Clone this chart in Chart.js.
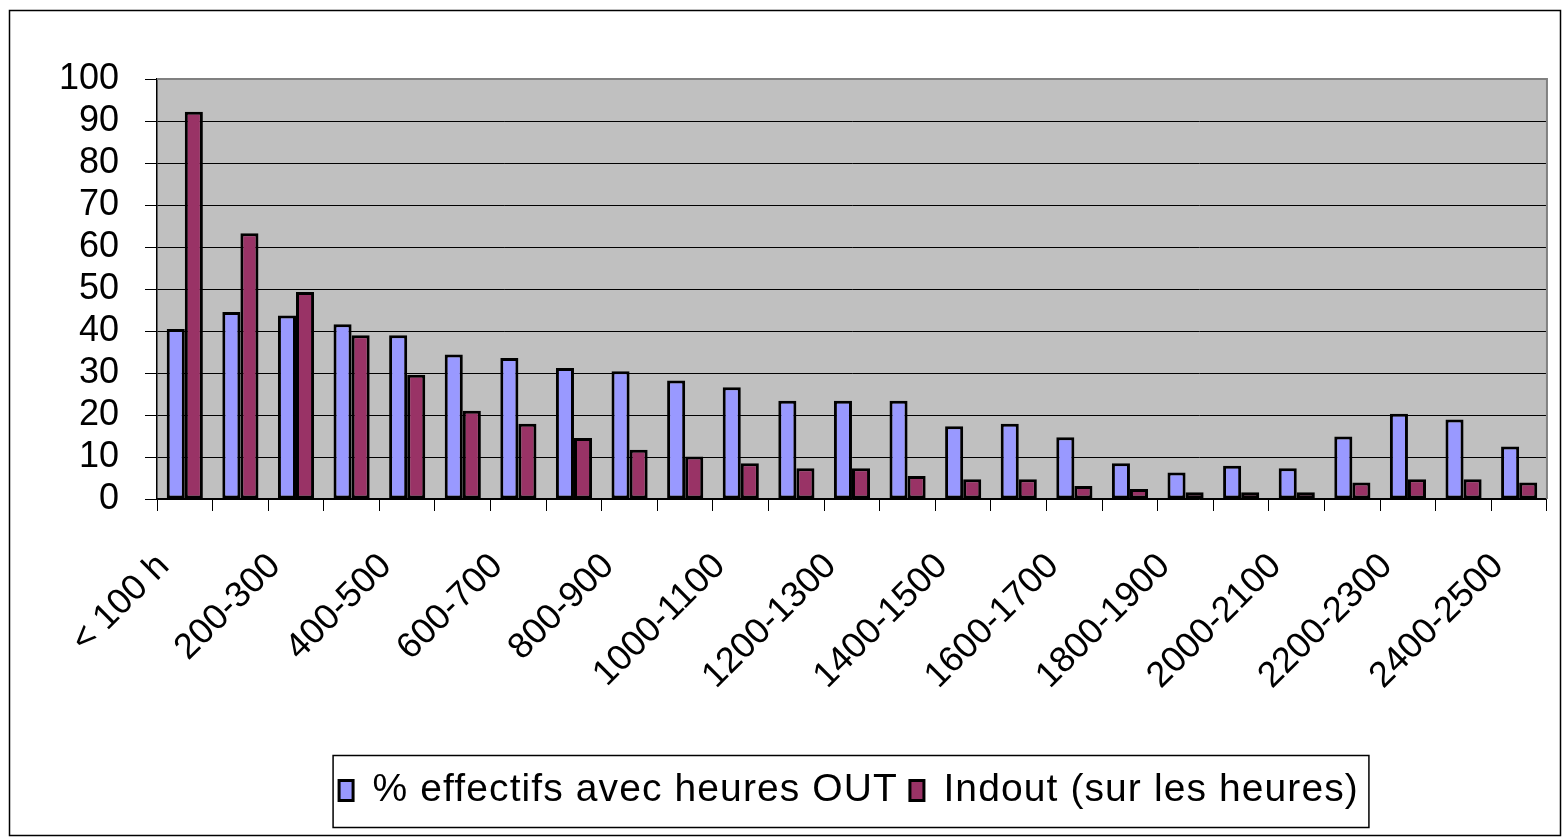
<!DOCTYPE html>
<html>
<head>
<meta charset="utf-8">
<script src="https://cdn.jsdelivr.net/npm/chart.js@4"></script>
<style>
html,body{margin:0;padding:0;background:#fff;}
#wrap{width:1563px;height:838px;position:relative;}
</style>
</head>
<body>
<div id="wrap"><canvas id="c" width="1563" height="838"></canvas></div>
<script>
const categories = ['< 100 h','100-200','200-300','300-400','400-500','500-600','600-700','700-800','800-900','900-1000','1000-1100','1100-1200','1200-1300','1300-1400','1400-1500','1500-1600','1600-1700','1700-1800','1800-1900','1900-2000','2000-2100','2100-2200','2200-2300','2300-2400','2400-2500'];
const effectifsOut = [40.5,44.5,43.7,41.6,39,34.4,33.6,31.2,30.4,28.2,26.6,23.4,23.4,23.4,17.3,17.9,14.7,8.5,6.3,7.9,7.3,14.9,20.3,18.9,12.5];
const indout = [92.2,63.3,49.3,39,29.6,21,17.9,14.5,11.7,10.1,8.5,7.3,7.3,5.5,4.7,4.7,3.1,2.4,1.6,1.6,1.6,3.9,4.7,4.7,3.9];
const seriesNames = ['% effectifs avec heures OUT','Indout (sur les heures)'];
const yMin = 0, yMax = 100, yStep = 10;

const FONT = "'Liberation Sans', Arial, sans-serif";
const LEGEND_SHIFT = 75; // legend is centred under the plot area, not the whole canvas

const decor = {
  id: 'decor',
  beforeDraw(chart) {
    const ctx = chart.ctx, a = chart.chartArea;
    ctx.save();
    ctx.fillStyle = '#fff';
    ctx.fillRect(0, 0, chart.width, chart.height);
    ctx.fillStyle = '#C0C0C0';
    ctx.fillRect(a.left, a.top, a.right - a.left, a.bottom - a.top);
    ctx.restore();
  },
  afterDatasetsDraw(chart) {
    const ctx = chart.ctx, a = chart.chartArea;
    ctx.save();
    ctx.strokeStyle = '#808080';
    ctx.lineWidth = 2;
    ctx.beginPath();
    ctx.moveTo(a.left, a.top);
    ctx.lineTo(a.right, a.top);
    ctx.lineTo(a.right, a.bottom);
    ctx.stroke();
    ctx.restore();
  },
  afterDraw(chart) {
    const ctx = chart.ctx;
    ctx.save();
    ctx.strokeStyle = '#000';
    ctx.lineWidth = 1.5;
    ctx.strokeRect(9.5, 10.5, 1551, 825);
    const lg = chart.legend;
    if (lg && lg.legendHitBoxes && lg.legendHitBoxes.length) {
      const hb = lg.legendHitBoxes;
      const l = hb[0].left - 6 + LEGEND_SHIFT;
      const r = hb[hb.length - 1].left + hb[hb.length - 1].width + 10 + LEGEND_SHIFT;
      const cy = hb[0].top + hb[0].height / 2;
      ctx.strokeStyle = '#000';
      ctx.lineWidth = 1.5;
      ctx.strokeRect(l, cy - 35, r - l, 72);
    }
    ctx.restore();
  }
};

const chart = new Chart(document.getElementById('c'), {
  type: 'bar',
  data: {
    labels: categories,
    datasets: [
      { label: seriesNames[0], data: effectifsOut, backgroundColor: '#9999FF', borderColor: '#000', borderWidth: 3, borderSkipped: false },
      { label: seriesNames[1], data: indout, backgroundColor: '#993366', borderColor: '#000', borderWidth: 3, borderSkipped: false }
    ]
  },
  options: {
    responsive: false,
    animation: false,
    devicePixelRatio: 1,
    layout: { padding: { top: 79, left: 0, right: 15, bottom: 18 } },
    datasets: { bar: { categoryPercentage: 0.65, barPercentage: 1.0 } },
    scales: {
      x: {
        grid: { offset: true, drawOnChartArea: false, drawTicks: true, tickLength: 12, color: '#000', lineWidth: 1 },
        border: { display: true, color: '#000', width: 1.5 },
        ticks: {
          autoSkip: false, minRotation: 45, maxRotation: 45, padding: 13,
          color: '#000', font: { family: FONT, size: 36 },
          callback: function(v, i) { return i % 2 === 0 ? this.getLabelForValue(v) + '   ' : ''; }
        },
        afterFit(s) { s.height = 260; }
      },
      y: {
        min: yMin, max: yMax,
        grid: { color: '#000', lineWidth: 1, tickLength: 12, drawTicks: true },
        border: { display: true, color: '#000', width: 1.5 },
        ticks: { autoSkip: false, stepSize: yStep, padding: 26, color: '#000', font: { family: FONT, size: 36 } },
        afterFit(s) { s.width = 157; }
      }
    },
    plugins: {
      legend: {
        position: 'bottom',
        labels: { boxWidth: 14, boxHeight: 20, padding: 12, color: '#000', font: { family: FONT, size: 39 } }
      },
      tooltip: { enabled: false }
    }
  },
  plugins: [decor]
});

// wider letter spacing for the legend text, and centre it under the plot
(function () {
  const lg = chart.legend;
  const origFit = lg.fit, origDraw = lg.draw;
  lg.fit = function () {
    const ctx = this.ctx || chart.ctx;
    ctx.letterSpacing = '1.1px';
    const r = origFit.apply(this, arguments);
    ctx.letterSpacing = '0px';
    return r;
  };
  lg.draw = function () {
    const ctx = this.ctx || chart.ctx;
    ctx.save();
    ctx.letterSpacing = '1.1px';
    ctx.translate(LEGEND_SHIFT, 0);
    const r = origDraw.apply(this, arguments);
    ctx.restore();
    ctx.letterSpacing = '0px';
    return r;
  };
  chart.update();
})();
</script>
</body>
</html>
